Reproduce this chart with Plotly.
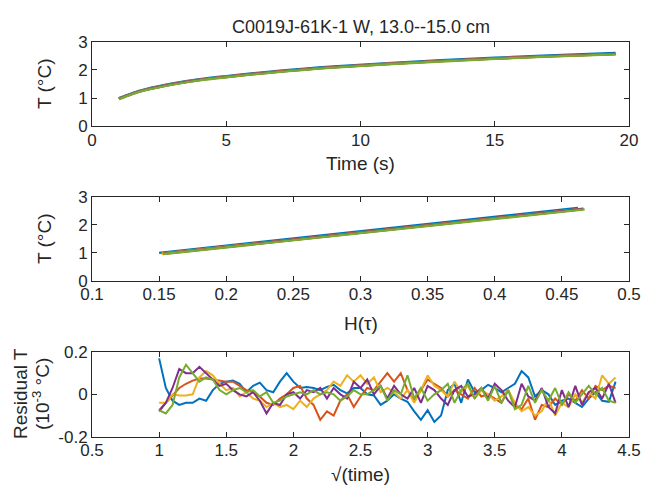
import plotly.graph_objects as go

# ---------------- data ----------------
colors = ["#0072BD", "#D95319", "#EDB120", "#7E2F8E", "#77AC30"]

time_s = [1, 1.5, 2, 3, 4, 5, 7, 9, 11, 13, 15, 17, 19.5]

T_blue   = [1.00, 1.18, 1.32, 1.52, 1.67, 1.78, 1.97, 2.12, 2.24, 2.34, 2.43, 2.51, 2.60]
T_red    = [0.98, 1.16, 1.30, 1.50, 1.65, 1.76, 1.95, 2.10, 2.22, 2.32, 2.41, 2.49, 2.57]
T_yellow = [0.97, 1.15, 1.29, 1.49, 1.64, 1.75, 1.94, 2.09, 2.21, 2.31, 2.40, 2.48, 2.56]
T_purple = [0.97, 1.15, 1.29, 1.49, 1.64, 1.75, 1.94, 2.09, 2.21, 2.31, 2.40, 2.48, 2.56]
T_green  = [0.96, 1.14, 1.28, 1.48, 1.63, 1.74, 1.93, 2.08, 2.20, 2.30, 2.39, 2.47, 2.55]

H_blue   = [0.150, 0.185, 0.212, 0.251, 0.281, 0.302, 0.339, 0.368, 0.392, 0.411, 0.429, 0.444, 0.462]
H_red    = [0.152, 0.187, 0.215, 0.255, 0.284, 0.306, 0.343, 0.373, 0.397, 0.416, 0.434, 0.450, 0.466]
H_yellow = [0.152, 0.188, 0.215, 0.255, 0.285, 0.306, 0.343, 0.373, 0.397, 0.416, 0.434, 0.450, 0.466]
H_purple = [0.153, 0.188, 0.216, 0.255, 0.285, 0.307, 0.344, 0.373, 0.397, 0.417, 0.435, 0.450, 0.466]
H_green  = [0.153, 0.189, 0.216, 0.256, 0.285, 0.307, 0.344, 0.374, 0.398, 0.417, 0.435, 0.451, 0.467]

# sqrt(time) sample grid for residuals: 1.00, 1.05, ..., 4.40
sqrt_time = [round(1 + 0.05 * i, 2) for i in range(69)]

R_blue = [0.17, 0.03, -0.03, -0.05, -0.04, -0.04, -0.02, -0.03, 0.02, 0.05,
          0.06, 0.065, 0.05, 0.01, 0.04, 0.055, 0.02, 0.01, 0.06, 0.10,
          0.06, 0.03, 0.035, 0.03, 0.02, 0.035, 0.045, 0.02, 0.005, 0.03,
          0.03, 0.00, -0.005, -0.05, -0.03, 0.0, -0.02, -0.035, -0.08, -0.12,
          -0.075, -0.13, -0.10, 0.02, 0.05, -0.04, 0.07, 0.01, 0.02, 0.045,
          0.03, 0.01, 0.03, 0.05, 0.11, 0.08, -0.01, 0.02, 0.0, -0.05,
          -0.03, -0.02, -0.04, -0.06, -0.02, 0.01, -0.03, -0.035, 0.06]
R_red = [-0.075, -0.04, 0.0, 0.03, 0.05, 0.065, 0.075, 0.075, 0.07, 0.065,
         0.06, 0.06, 0.04, 0.02, 0.01, -0.01, -0.04, -0.05, -0.02, 0.0,
         0.03, 0.04, -0.02, -0.05, -0.12, -0.08, -0.10, -0.03, 0.0, -0.06,
         -0.01, 0.03, 0.02, 0.06, 0.10, 0.06, 0.10, 0.02, -0.03, 0.02,
         0.07, 0.05, 0.03, -0.01, 0.02, 0.0, -0.02, 0.03, -0.01, 0.0,
         -0.02, -0.04, 0.02, -0.05, -0.07, -0.02, -0.12, -0.05, -0.06, -0.02,
         -0.05, 0.0, -0.03, 0.02, -0.02, 0.04, 0.02, 0.04, 0.03]
R_yellow = [-0.04, -0.04, 0.0, -0.005, -0.005, 0.0, 0.08, 0.11, 0.09, 0.05,
            0.02, 0.03, -0.01, 0.01, -0.02, -0.03, -0.06, -0.04, -0.06, -0.05,
            -0.07, -0.03, -0.06, -0.02, 0.0, 0.02, 0.06, 0.04, 0.09, 0.06,
            0.09, 0.05, 0.08, 0.01, 0.03, 0.01, -0.02, 0.02, -0.04, 0.02,
            0.09, 0.04, 0.02, -0.01, 0.06, 0.01, 0.04, -0.02, 0.02, 0.0,
            -0.03, -0.01, 0.02, -0.04, -0.08, -0.06, -0.10, -0.08, -0.02, -0.10,
            -0.04, -0.06, 0.0, -0.04, 0.01, -0.02, 0.09, 0.05, 0.08]
R_purple = [-0.08, -0.04, 0.03, 0.12, 0.10, 0.10, 0.13, 0.10, 0.07, 0.04,
            0.05, 0.02, 0.0, -0.01, 0.01, -0.03, -0.09, -0.04, -0.05, 0.0,
            0.01, -0.02, 0.02, 0.01, 0.03, -0.02, 0.03, 0.0, -0.02, 0.06,
            0.03, 0.07, 0.0, 0.04, -0.02, 0.04, 0.0, -0.02, 0.03, -0.04,
            0.04, 0.02, -0.02, -0.05, 0.02, 0.04, -0.01, 0.0, 0.03, -0.02,
            0.05, 0.02, -0.03, -0.06, 0.05, -0.01, -0.03, 0.03, -0.06, -0.09,
            0.02, -0.06, 0.04, -0.05, 0.01, 0.03, -0.02, 0.05, -0.04]
R_green = [-0.075, -0.09, -0.05, 0.08, 0.14, 0.10, 0.06, 0.08, 0.07, 0.02,
           0.0, 0.02, 0.03, 0.01, 0.02, -0.01, 0.01, -0.04, -0.03, -0.01,
           0.0, 0.01, 0.0, 0.02, 0.0, 0.01, 0.0, -0.03, -0.01, 0.02,
           0.0, 0.0, 0.02, 0.04, -0.03, 0.02, 0.0, 0.09, -0.02, 0.03,
           -0.03, 0.0, 0.02, 0.05, -0.04, 0.02, 0.05, -0.02, 0.03, -0.03,
           0.04, -0.04, 0.02, -0.07, -0.05, 0.04, -0.04, 0.02, -0.03, 0.03,
           -0.05, 0.01, -0.04, 0.0, 0.04, 0.0, 0.03, -0.03, -0.04]

T_series = [T_blue, T_red, T_yellow, T_purple, T_green]
H_series = [H_blue, H_red, H_yellow, H_purple, H_green]
R_series = [R_blue, R_red, R_yellow, R_purple, R_green]

# ---------------- figure ----------------
W, Hh = 647, 487
FONT = "Liberation Sans, Arial, Helvetica, sans-serif"
TXT = "#262626"

fig = go.Figure()
for c, T in zip(colors, T_series):
    fig.add_trace(go.Scatter(x=time_s, y=T, mode="lines", line=dict(color=c, width=2.4, shape="spline"),
                             xaxis="x", yaxis="y", showlegend=False))
for c, Hv, T in zip(colors, H_series, T_series):
    fig.add_trace(go.Scatter(x=Hv, y=T, mode="lines", line=dict(color=c, width=2.4),
                             xaxis="x2", yaxis="y2", showlegend=False))
for c, R in zip(colors, R_series):
    fig.add_trace(go.Scatter(x=sqrt_time, y=R, mode="lines", line=dict(color=c, width=2),
                             xaxis="x3", yaxis="y3", showlegend=False))

X0, X1 = 92, 629
xdom = [X0 / W, X1 / W]
def ydom(top_px, bot_px):
    return [1 - bot_px / Hh, 1 - top_px / Hh]

common = dict(showline=True, linecolor=TXT, linewidth=1, mirror="ticks", ticks="inside",
              ticklen=5, tickcolor=TXT, showgrid=False, zeroline=False, automargin=False,
              tickfont=dict(family=FONT, size=17, color=TXT))
xcommon = dict(common, ticklabelstandoff=-2)

layout = dict(
    template="none",
    width=W, height=Hh, margin=dict(l=0, r=0, t=0, b=0, pad=0),
    paper_bgcolor="white", plot_bgcolor="white", showlegend=False,
    xaxis=dict(domain=xdom, range=[0, 20], tickvals=[0, 5, 10, 15, 20], anchor="y", **xcommon),
    yaxis=dict(domain=ydom(41.7, 126.3), range=[0, 3], tickvals=[0, 1, 2, 3], anchor="x", **common),
    xaxis2=dict(domain=xdom, range=[0.1, 0.5],
                tickvals=[0.1, 0.15, 0.2, 0.25, 0.3, 0.35, 0.4, 0.45, 0.5],
                ticktext=["0.1", "0.15", "0.2", "0.25", "0.3", "0.35", "0.4", "0.45", "0.5"],
                anchor="y2", **xcommon),
    yaxis2=dict(domain=ydom(196.7, 281), range=[0, 3], tickvals=[0, 1, 2, 3], anchor="x2", **common),
    xaxis3=dict(domain=xdom, range=[0.5, 4.5],
                tickvals=[0.5, 1, 1.5, 2, 2.5, 3, 3.5, 4, 4.5],
                ticktext=["0.5", "1", "1.5", "2", "2.5", "3", "3.5", "4", "4.5"],
                anchor="y3", **xcommon),
    yaxis3=dict(domain=ydom(352, 436.7), range=[-0.2, 0.2], tickvals=[-0.2, 0, 0.2],
                ticktext=["-0.2", "0", "0.2"], anchor="x3", **common),
)
fig.update_layout(**layout)

def ann(text, x, y, size=19, angle=0):
    fig.add_annotation(text=text, x=x / W, y=1 - y / Hh, xref="paper", yref="paper",
                       showarrow=False, textangle=angle, xanchor="center", yanchor="middle",
                       font=dict(family=FONT, size=size, color=TXT))

XC = (X0 + X1) / 2
ann("C0019J-61K-1 W, 13.0--15.0 cm", XC, 27, size=18)
ann("Time (s)", XC, 163, size=19)
ann("T (°C)", 44, 84, size=19, angle=-90)
ann("H(τ)", XC, 323, size=19)
ann("T (°C)", 44, 239, size=19, angle=-90)
ann("√(time)", XC, 474, size=19)
ann("Residual T", 20, 394, size=19, angle=-90)
ann("(10<sup>-3</sup> °C)", 41, 394, size=19, angle=-90)

fig.write_html("out.html")
